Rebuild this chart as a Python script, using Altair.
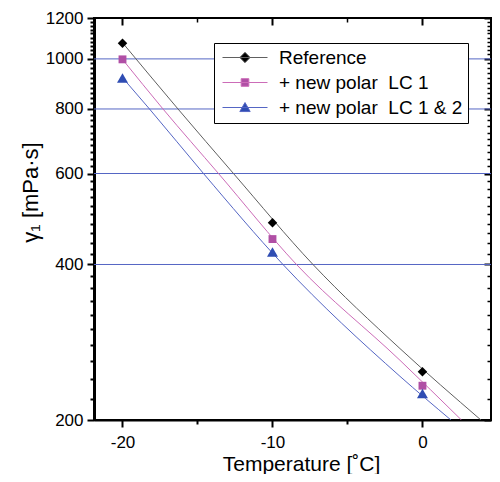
import altair as alt
import pandas as pd

# ---- data ----
series = ["Reference", "+ new polar\u00a0 LC 1", "+ new polar\u00a0 LC 1 & 2"]
temps = [-20, -10, 0]
ref_vals = [1072, 482, 248]
lc1_vals = [998, 448, 233]
lc12_vals = [918, 423, 225]

# fitted curves
ref_fit_t = [-20, -16.3, -12.6, -7.3, -1.5, 3.9]
ref_fit_v = [1075, 800, 600, 400, 275, 200]
lc1_fit_t = [-20, -17.3, -13.6, -8.4, -1.5, 2.6]
lc1_fit_v = [998, 800, 600, 400, 261, 200]
lc12_fit_t = [-20, -18.2, -14.6, -9.3, -1.5, 1.9]
lc12_fit_v = [920, 800, 600, 400, 243, 200]

x_major = [-20, -10, 0]
x_minor = [-15, -5]
y_major = [200, 400, 600, 800, 1000, 1200]
y_grid = [400, 600, 800, 1000]
y_all = list(range(200, 1201, 20))
y_minor = [v for v in y_all if v % 200 != 0]

marker_colors = ["#000000", "#b04fa5", "#2f4db3"]
line_colors = ["#606060", "#cc6cb8", "#5566c4"]
grid_color = "#5566c4"
marker_shapes = ["diamond", "square", "triangle-up"]
marker_sizes = [90, 62, 120]
legend_paths = [
    "M-1,0L1,0M0,-0.23L0.23,0L0,0.23L-0.23,0Z",
    "M-1,0L1,0M-0.17,-0.17L0.17,-0.17L0.17,0.17L-0.17,0.17Z",
    "M-1,0L1,0M0,-0.22L0.23,0.18L-0.23,0.18Z",
]

pts = pd.DataFrame({
    "t": temps * 3,
    "v": ref_vals + lc1_vals + lc12_vals,
    "series": [series[0]] * 3 + [series[1]] * 3 + [series[2]] * 3,
})
fits = pd.DataFrame({
    "t": ref_fit_t + lc1_fit_t + lc12_fit_t,
    "v": ref_fit_v + lc1_fit_v + lc12_fit_v,
    "series": [series[0]] * len(ref_fit_t) + [series[1]] * len(lc1_fit_t) + [series[2]] * len(lc12_fit_t),
})
grid_df = pd.DataFrame({"g": y_grid})

FONT = "Liberation Sans"
xscale = alt.Scale(domain=[-21.9, 4.57], nice=False, zero=False)
yscale = alt.Scale(type="log", domain=[200, 1200], nice=False)

legend_def = dict(
    title=None, orient="none", legendX=120, legendY=25,
    fillColor="white", strokeColor="black", padding=5,
    symbolSize=2025, clipHeight=19, symbolOffset=3, symbolStrokeWidth=1,
    labelOffset=11, rowPadding=5, labelFont=FONT, labelFontSize=19,
    labelColor="black", labelLimit=400,
    labelExpr="datum.label + '\u00a0\u00a0\u00a0'",
)

grid = alt.Chart(grid_df).mark_rule(color=grid_color, strokeWidth=1).encode(
    y=alt.Y("g:Q", scale=yscale, axis=None),
)

lines = alt.Chart(fits).mark_line(clip=True, strokeWidth=1, interpolate="monotone").encode(
    x=alt.X("t:Q", scale=xscale, axis=alt.Axis(
        orient="bottom", values=x_major + x_minor,
        labelExpr="datum.value % 10 === 0 ? '' + datum.value : ''",
        tickSize={"condition": {"test": "datum.value % 10 === 0", "value": 7}, "value": 4},
        tickWidth=2, tickColor="black", domain=True, domainWidth=2, domainColor="black",
        grid=False, labelOverlap=False, labelFlush=False, labelPadding=7,
        title="Temperature [\u02daC]", titleX=207, titleY=50,
        titleBaseline="alphabetic", titleAlign="center")),
    y=alt.Y("v:Q", scale=yscale, axis=alt.Axis(
        orient="left", values=y_all,
        labelExpr="datum.value % 200 === 0 ? '' + datum.value : ''",
        tickSize={"condition": {"test": "datum.value % 200 === 0", "value": 7}, "value": 4},
        tickWidth=2, tickColor="black", domain=True, domainWidth=3, domainColor="black",
        grid=False, labelOverlap=False, labelFlush=False, labelPadding=4,
        title="\u03b3\u2081 [mPa\u00b7s]", titleAngle=270, titleX=-64, titleY=174,
        titleAlign="center", titleBaseline="middle", titleFontSize=22)),
    stroke=alt.Stroke("series:N", scale=alt.Scale(domain=series, range=line_colors), legend=None),
)


def marker_layer(i, with_axes):
    if with_axes:
        xax = alt.Axis(orient="top", values=x_major, tickSize=7, tickWidth=2, tickColor="black",
                       offset=-7, labels=False, domain=False, grid=False, title=None)
        yax = alt.Axis(orient="right", values=y_major, tickSize=7, tickWidth=2, tickColor="black",
                       offset=-7, labels=False, domain=False, grid=False, title=None)
    else:
        xax = None
        yax = None
    return alt.Chart(pts).transform_filter(
        alt.datum.series == series[i]
    ).mark_point(
        filled=True, opacity=1, shape=marker_shapes[i], size=marker_sizes[i], color=marker_colors[i]
    ).encode(
        x=alt.X("t:Q", scale=xscale, axis=xax),
        y=alt.Y("v:Q", scale=yscale, axis=yax),
    )


# legend carrier: same points, drawn with size 0 so only its legend shows
carrier = alt.Chart(pts).mark_point(filled=True, opacity=1, strokeWidth=1, size=0).encode(
    x=alt.X("t:Q", scale=xscale, axis=alt.Axis(
        orient="top", values=x_minor, tickSize=4, tickWidth=1.5, tickColor="black", offset=-4,
        labels=False, domain=False, grid=False, title=None)),
    y=alt.Y("v:Q", scale=yscale, axis=alt.Axis(
        orient="right", values=y_minor, tickSize=4, tickWidth=1.5, tickColor="black", offset=-4,
        labels=False, domain=False, grid=False, title=None)),
    color=alt.Color("series:N", scale=alt.Scale(domain=series, range=marker_colors), legend=alt.Legend(**legend_def)),
    stroke=alt.Stroke("series:N", scale=alt.Scale(domain=series, range=line_colors), legend=alt.Legend(**legend_def)),
    shape=alt.Shape("series:N", scale=alt.Scale(domain=series, range=legend_paths), legend=alt.Legend(**legend_def)),
)

chart = alt.layer(
    grid, lines, marker_layer(0, True), marker_layer(1, False), marker_layer(2, False), carrier
).resolve_scale(
    shape="independent", color="independent", stroke="independent"
).resolve_axis(
    x="independent", y="independent"
).properties(
    width=397, height=402,
    autosize=alt.AutoSizeParams(type="none"),
    padding={"left": 86, "top": 10, "right": 1, "bottom": 54},
).configure_view(
    stroke="black", strokeWidth=2
).configure_axis(
    labelFont=FONT, titleFont=FONT, labelFontSize=17, titleFontSize=21,
    titleFontWeight="normal", labelColor="black", titleColor="black",
)

chart.save("out.html", embed_options={"renderer": "svg", "actions": False})
